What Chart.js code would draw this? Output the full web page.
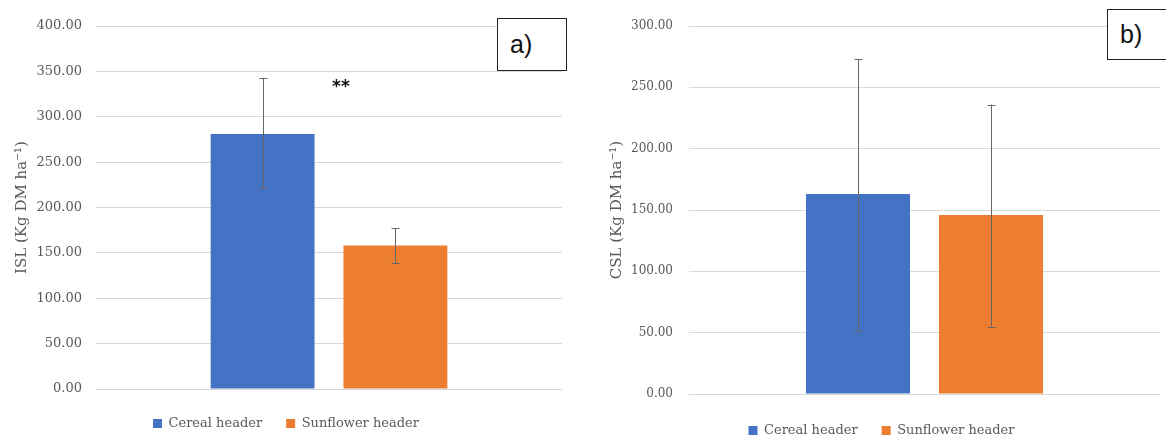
<!DOCTYPE html>
<html><head><meta charset="utf-8">
<script src="https://cdn.jsdelivr.net/npm/chart.js@4.4.1/dist/chart.umd.min.js"></script>
<style>
html,body{margin:0;padding:0;background:#fff;overflow:hidden;width:1166px;height:435px;position:relative}
.wrap{position:absolute;top:0;width:583px}
canvas{display:block}
.box{position:absolute;border:1.5px solid #222;background:#fff;font-family:'Liberation Sans',Arial,sans-serif;font-size:25px;color:#111;box-sizing:border-box;line-height:1}
</style></head><body>
<div class="wrap" style="left:0"><canvas id="c1" width="583" height="440"></canvas></div>
<div class="wrap" style="left:583px"><canvas id="c2" width="583" height="447"></canvas></div>
<div class="box" style="left:497px;top:18px;width:70px;height:53px;padding:13px 0 0 12px">a)</div>
<div class="box" style="left:1107px;top:9px;width:70px;height:51px;padding:12px 0 0 12px">b)</div>
<script>
// ---- data ----
const seriesNames = ['Cereal header', 'Sunflower header'];
const categories = [''];
// panel a) ISL
const islCereal = [281];
const islSunflower = [158];
const islCerealLow = [221];
const islCerealHigh = [343];
const islSunflowerLow = [139];
const islSunflowerHigh = [177];
const islSignifText = '**';
const islSignifValue = 332;
const islTicks = {min: 0, max: 400, step: 50};
// panel b) CSL
const cslCereal = [163];
const cslSunflower = [146];
const cslCerealLow = [51];
const cslCerealHigh = [273];
const cslSunflowerLow = [55];
const cslSunflowerHigh = [236];
const cslTicks = {min: 0, max: 300, step: 50};

const BLUE = '#4472C4', ORANGE = '#ED7D31', GREY = '#595959';

const errorBars = {
  id: 'errorBars',
  afterDatasetsDraw(chart) {
    const ctx = chart.ctx, y = chart.scales.y;
    chart.data.datasets.forEach((ds, i) => {
      const meta = chart.getDatasetMeta(i);
      meta.data.forEach((bar, j) => {
        const lo = y.getPixelForValue(ds.errLow[j]);
        const hi = y.getPixelForValue(ds.errHigh[j]);
        const x = Math.round(bar.x) + 0.5;
        ctx.save();
        ctx.strokeStyle = '#666666';
        ctx.lineWidth = 1;
        ctx.beginPath();
        ctx.moveTo(x, lo); ctx.lineTo(x, hi);
        ctx.moveTo(x - 4, Math.round(lo) + 0.5); ctx.lineTo(x + 4, Math.round(lo) + 0.5);
        ctx.moveTo(x - 4, Math.round(hi) + 0.5); ctx.lineTo(x + 4, Math.round(hi) + 0.5);
        ctx.stroke();
        ctx.restore();
      });
    });
  }
};

const signif = {
  id: 'signif',
  afterDatasetsDraw(chart, args, opts) {
    if (!opts.text) return;
    const ctx = chart.ctx, y = chart.scales.y;
    const b0 = chart.getDatasetMeta(0).data[0], b1 = chart.getDatasetMeta(1).data[0];
    const x = (b0.x + b1.x) / 2 + opts.dx;
    ctx.save();
    ctx.fillStyle = '#111';
    ctx.font = 'bold 17px "DejaVu Sans"';
    ctx.textAlign = 'center';
    ctx.textBaseline = 'middle';
    ctx.fillText(opts.text, x, y.getPixelForValue(opts.value));
    ctx.restore();
  }
};

function makeChart(id, title, dA, dB, lowA, highA, lowB, highB, ticks, cfg) {
  return new Chart(document.getElementById(id), {
    type: 'bar',
    data: {
      labels: categories,
      datasets: [
        {label: seriesNames[0], data: dA, errLow: lowA, errHigh: highA, backgroundColor: BLUE,
         categoryPercentage: cfg.catPct, barPercentage: cfg.barPct},
        {label: seriesNames[1], data: dB, errLow: lowB, errHigh: highB, backgroundColor: ORANGE,
         categoryPercentage: cfg.catPct, barPercentage: cfg.barPct}
      ]
    },
    options: {
      responsive: false,
      animation: false,
      layout: {padding: {top: 26, right: cfg.padRight, bottom: 0, left: cfg.padLeft}},
      plugins: {
        legend: {
          position: 'bottom',
          labels: {boxWidth: 9, boxHeight: 9, padding: 24, color: GREY,
                   font: {family: '"DejaVu Serif"', size: 13}}
        },
        tooltip: {enabled: false},
        signif: cfg.signif || {}
      },
      scales: {
        x: {
          grid: {display: false}, border: {display: false},
          ticks: {display: false},
          afterFit: s => { s.height = cfg.xHeight; }
        },
        y: {
          min: ticks.min, max: ticks.max,
          ticks: {stepSize: ticks.step, padding: cfg.tickPad, color: GREY,
                  font: {family: '"DejaVu Serif"', size: cfg.tickSize},
                  callback: v => Number(v).toFixed(2)},
          grid: {color: '#d9d9d9', drawTicks: false, lineWidth: 1},
          border: {display: false},
          title: {display: true, text: title, color: GREY, padding: {top: cfg.titlePad, bottom: 0},
                  font: {family: '"DejaVu Serif"', size: 15}},
          afterFit: s => { s.width = cfg.yWidth; }
        }
      }
    },
    plugins: [errorBars, signif]
  });
}

makeChart('c1', 'ISL (Kg DM ha\u207B\u00B9)', islCereal, islSunflower,
  islCerealLow, islCerealHigh, islSunflowerLow, islSunflowerHigh, islTicks,
  {padLeft: 10, padRight: 21, xHeight: 4, yWidth: 86, tickPad: 14, tickSize: 13, titlePad: 3,
   catPct: 0.57, barPct: 0.782, signif: {text: islSignifText, value: islSignifValue, dx: 12}});

makeChart('c2', 'CSL (Kg DM ha\u207B\u00B9)', cslCereal, cslSunflower,
  cslCerealLow, cslCerealHigh, cslSunflowerLow, cslSunflowerHigh, cslTicks,
  {padLeft: 20, padRight: 6, xHeight: 6, yWidth: 86, tickPad: 16, tickSize: 12, titlePad: 5,
   catPct: 0.565, barPct: 0.782});
</script>
</body></html>
